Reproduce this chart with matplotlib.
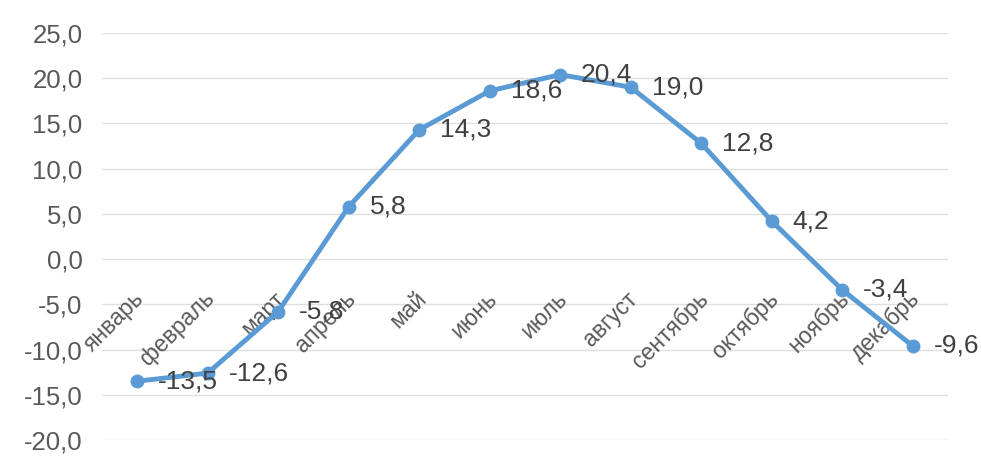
import matplotlib
matplotlib.use("Agg")
import matplotlib.pyplot as plt

months = ["январь", "февраль", "март", "апрель", "май", "июнь",
          "июль", "август", "сентябрь", "октябрь", "ноябрь", "декабрь"]
temps = [-13.5, -12.6, -5.8, 5.8, 14.3, 18.6, 20.4, 19.0, 12.8, 4.2, -3.4, -9.6]
yticks = [-20, -15, -10, -5, 0, 5, 10, 15, 20, 25]

plt.rcParams['font.family'] = ['Liberation Sans', 'DejaVu Sans']

fig = plt.figure(figsize=(9.81, 4.62), dpi=100)
ax = fig.add_axes([102/981, 1-440/462, (948-102)/981, (440-33)/462])

x = list(range(len(months)))
ax.plot(x, temps, color='#5B9BD5', lw=3.5, marker='o', ms=9, mfc='#5B9BD5', mec='#5B9BD5', zorder=3)

for i, v in enumerate(temps):
    ax.annotate(f"{v:.1f}".replace('.', ','), (i, v), xytext=(15, 0), textcoords='offset points',
                ha='left', va='center', fontsize=19, color='#404040', zorder=4)

for i, m in enumerate(months):
    ax.text(i + 0.05, -4.0, m, rotation=45, rotation_mode='anchor', ha='right', va='center',
            fontsize=16.5, color='#595959', zorder=2)

ax.set_xlim(-0.5, 11.5)
ax.set_ylim(-20, 25)
ax.set_yticks(yticks)
ax.set_yticklabels([f"{t:.1f}".replace('.', ',') for t in yticks], fontsize=18.5, color='#595959')
ax.set_xticks([])
ax.tick_params(axis='y', length=0, pad=14)
ax.grid(axis='y', color='#e0e0e0', lw=1)
ax.set_axisbelow(True)
for s in ax.spines.values():
    s.set_visible(False)

fig.savefig("out.png", dpi=100)
